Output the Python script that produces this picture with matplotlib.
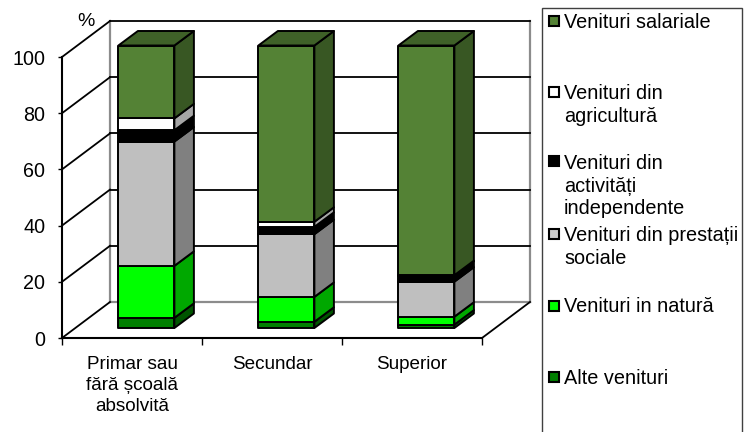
import matplotlib
matplotlib.use("Agg")
import matplotlib.pyplot as plt
from matplotlib.patches import Polygon, Rectangle

plt.rcParams['font.family'] = ['Liberation Sans', 'DejaVu Sans']

categories = ["Primar sau\nfără școală\nabsolvită", "Secundar", "Superior"]
series = ["Alte venituri", "Venituri in natură", "Venituri din prestații\nsociale",
          "Venituri din\nactivități\nindependente", "Venituri din\nagricultură",
          "Venituri salariale"]
alte = [3.6, 2.2, 1.2]
natura = [18.4, 8.8, 2.8]
sociale = [44.0, 22.2, 12.4]
independente = [4.0, 2.6, 2.1]
agricultura = [4.2, 1.8, 0.2]
salariale = [25.8, 62.4, 81.3]
values = [alte, natura, sociale, independente, agricultura, salariale]
yticks = [0, 20, 40, 60, 80, 100]

front = ["#007F00", "#00FF00", "#BFBFBF", "#000000", "#FFFFFF", "#548235"]
side = ["#005500", "#00A800", "#808080", "#000000", "#A6A6A6", "#385723"]
top_col = "#3F6128"
legend_fill = ["#007F00", "#00FF00", "#CCCCCC", "#000000", "#FFFFFF", "#548235"]
legend_y = [378, 307, 247, 186, 105, 22.5]

W, H = 747, 432
fig = plt.figure(figsize=(W / 100, H / 100), dpi=100)
ax = fig.add_axes([62 / W, (H - 338) / H, 420 / W, 281 / H])
ax.set_xlim(0, 3)
ax.set_ylim(0, 100)

# depth of the fake 3d box, in data units
dx = 48 / 140
dy = 36 / 2.81
bar_w = 56 / 140
bar_dx = 19.5 / 140
bar_dy = 14.5 / 2.81
base_dx = 13 / 140
base_dy = 10 / 2.81
lw = 1.4


def poly(pts, fc, z):
    ax.add_patch(Polygon(pts, closed=True, fc=fc, ec="black", lw=lw, clip_on=False,
                         zorder=z, joinstyle="round"))


# walls and gridlines
ax.plot([dx, dx], [dy, 100 + dy], color="#8C8C8C", lw=1.6, clip_on=False, zorder=1)
ax.plot([3 + dx, 3 + dx], [dy, 100 + dy], color="#8C8C8C", lw=1.6, clip_on=False, zorder=1)
ax.plot([dx, 3 + dx], [dy, dy], color="#8C8C8C", lw=1.6, clip_on=False, zorder=1)
for t in yticks:
    ax.plot([0, dx], [t, t + dy], color="black", lw=1.3, clip_on=False, zorder=2)
    if t > 0:
        ax.plot([dx, 3 + dx], [t + dy, t + dy], color="black", lw=1.3, clip_on=False, zorder=2)
ax.plot([3, 3 + dx], [0, dy], color="black", lw=1.3, clip_on=False, zorder=2)

# stacked bars
z = 3
for i in range(len(categories)):
    x0 = i + 0.5 - bar_w / 2 + base_dx + 0.01
    x1 = x0 + bar_w
    bottom = base_dy
    scale = 282.5 / 281
    for j, vals in enumerate(values):
        h = vals[i] * scale
        y0, y1 = bottom, bottom + h
        poly([(x1, y0), (x1 + bar_dx, y0 + bar_dy), (x1 + bar_dx, y1 + bar_dy), (x1, y1)], side[j], z)
        poly([(x0, y0), (x1, y0), (x1, y1), (x0, y1)], front[j], z + 0.5)
        bottom = y1
        z += 1
    poly([(x0, bottom), (x1, bottom), (x1 + bar_dx, bottom + bar_dy), (x0 + bar_dx, bottom + bar_dy)], top_col, z)
    z += 1

# axes
for s in ["top", "right"]:
    ax.spines[s].set_visible(False)
for s in ["left", "bottom"]:
    ax.spines[s].set_linewidth(1.5)
    ax.spines[s].set_zorder(50)
ax.set_yticks(yticks)
ax.tick_params(axis="y", labelsize=14.2, length=3, width=1, pad=9, colors="black")
ax.set_xticks([0, 1, 2, 3])
ax.set_xticklabels([])
ax.set_xticks([0.5, 1.5, 2.5], minor=True)
ax.set_xticklabels(categories, minor=True, fontsize=13.6, linespacing=1.32, va="top")
ax.tick_params(axis="x", which="major", length=5, width=1)
ax.tick_params(axis="x", which="minor", length=0, pad=13)
fig.text(86 / W, 1 - 21.5 / H, "%", fontsize=14, ha="center", va="center")

# legend box runs off the bottom of the picture
fig.add_artist(Rectangle((542 / W, -0.02), 200 / W, 1.02 - 8 / H, transform=fig.transFigure,
                         fc="white", ec="#404040", lw=1.0))
for name, fc, ly in zip(series, legend_fill, legend_y):
    fig.text(564 / W, 1 - ly / H, name, fontsize=14.3, ha="left", va="center", linespacing=1.25)
    first_line = ly - 1.5 - (name.count("\n")) * 11.7
    fig.add_artist(Rectangle((549 / W, 1 - (first_line + 5) / H), 10 / W, 10 / H,
                             transform=fig.transFigure, fc=fc, ec="black", lw=1.5))

fig.savefig("out.png", dpi=100)
